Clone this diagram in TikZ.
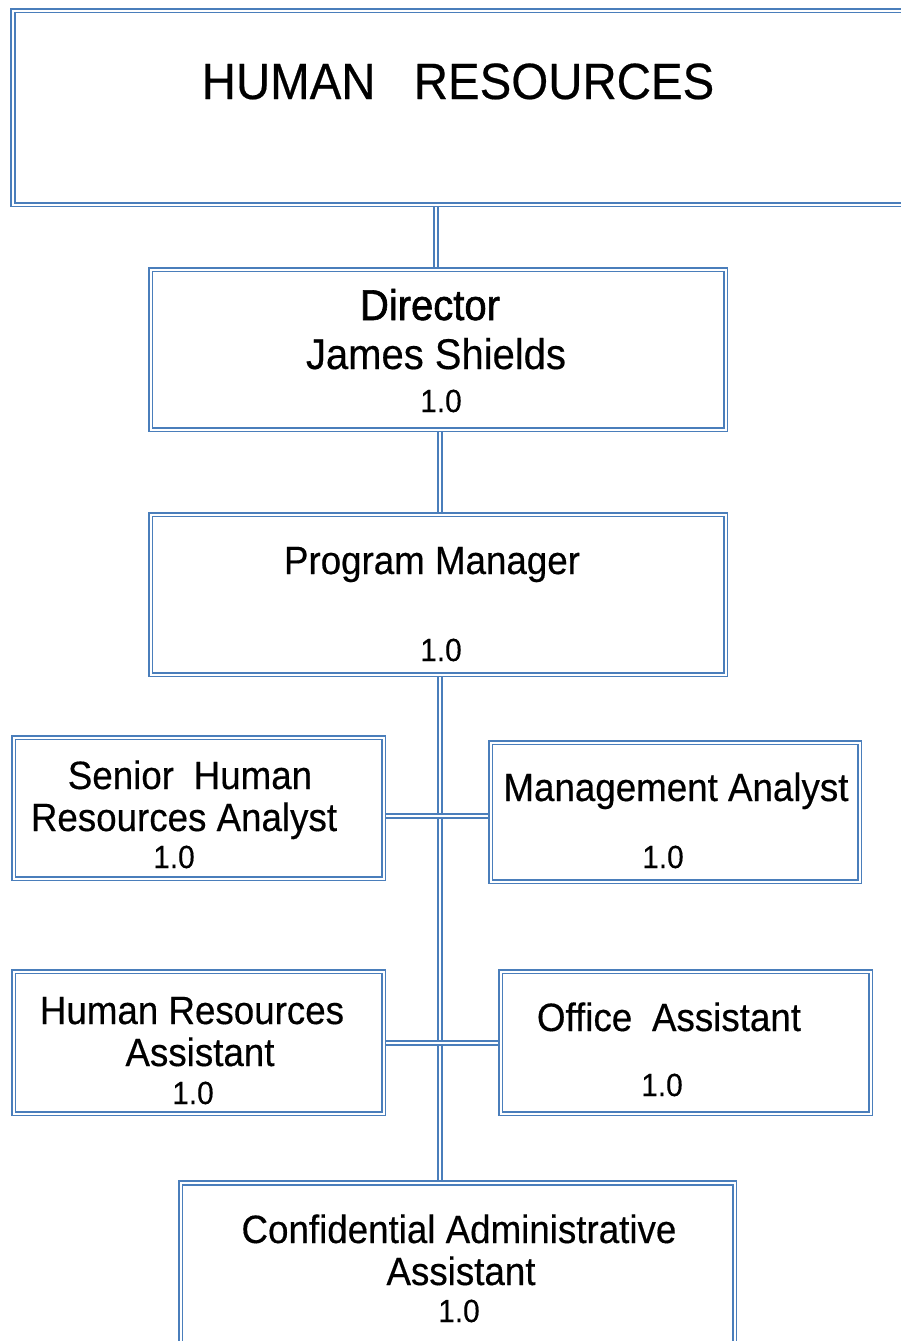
\documentclass[tikz,border=0pt]{standalone}
\usepackage{fontspec}
\setmainfont{Liberation Sans}[FakeStretch=0.93, FakeBold=0.4]
\newfontfamily\dirfont{Liberation Sans}[FakeStretch=0.93, FakeBold=1.4]
\definecolor{hrblue}{HTML}{4A7EBB}
\tikzset{
  dbl/.style={draw=hrblue, line width=1.8pt, double=white, double distance=2pt},
  box/.style={rectangle, inner sep=0pt, outer sep=0pt},
  conn/.style={dbl, line cap=butt},
  big/.style={font=\fontsize{51}{53}\selectfont, anchor=base, inner sep=0pt},
  mid/.style={font=\fontsize{43}{45}\selectfont, anchor=base, inner sep=0pt},
  lbl/.style={font=\fontsize{39.5}{41}\selectfont, anchor=base, inner sep=0pt},
  num/.style={font=\fontsize{32}{34}\selectfont, anchor=base, inner sep=0pt},
}
\begin{document}
\begin{tikzpicture}[x=1pt,y=-1pt]
\useasboundingbox (0,0) rectangle (901,1341);
\clip (0,0) rectangle (901,1341);
% boxes (positions only, drawn after connectors)
\path
  node[box, minimum width=907pt, minimum height=194pt] (hr) at (466.5,107.5) {}
  node[box, minimum width=575pt, minimum height=160pt] (dir) at (438,349.5) {}
  node[box, minimum width=575pt, minimum height=160pt] (pm) at (438,594.5) {}
  node[box, minimum width=370pt, minimum height=141pt] (sra) at (198.5,808) {}
  node[box, minimum width=369pt, minimum height=139pt] (ma) at (675,812) {}
  node[box, minimum width=370pt, minimum height=142pt] (hra) at (198.5,1042.5) {}
  node[box, minimum width=370pt, minimum height=142pt] (oa) at (685.5,1042.5) {}
  node[box, minimum width=554pt, minimum height=217pt] (ca) at (457.5,1291.5) {};
% connectors
\draw[conn] (dir.north -| 436,0) -- (hr.south -| 436,0);
\draw[conn] (pm.north -| 440,0) -- (dir.south -| 440,0);
\draw[conn] (pm.south -| 440,0) -- (ca.north -| 440,0);
\coordinate (j1) at (440,816);
\coordinate (j2) at (440,1043);
\draw[conn] (j1 -| sra.east) -- (j1 -| ma.west);
\draw[conn] (j2 -| hra.east) -- (j2 -| oa.west);
% box borders
\foreach \n in {hr,dir,pm,sra,ma,hra,oa,ca}
  \draw[dbl] (\n.north west) rectangle (\n.south east);
% texts
\node[big] (t-hr) at (458,99) {HUMAN\hspace{0.75em}RESOURCES};
\node[mid, font=\fontsize{43}{45}\dirfont] (t-dir1) at (430,320) {Director};
\node[mid] (t-dir2) at (436,369) {James Shields};
\node[num] (t-dir3) at (441,412) {1.0};
\node[lbl] (t-pm1) at (432,574) {Program Manager};
\node[num] (t-pm2) at (441,661) {1.0};
\node[lbl] (t-sra1) at (190,789) {Senior\hspace{0.5em}Human};
\node[lbl] (t-sra2) at (184,831) {Resources Analyst};
\node[num] (t-sra3) at (174,868) {1.0};
\node[lbl] (t-ma1) at (676,801) {Management Analyst};
\node[num] (t-ma2) at (663,868) {1.0};
\node[lbl] (t-hra1) at (192,1024) {Human Resources};
\node[lbl] (t-hra2) at (200,1066) {Assistant};
\node[num] (t-hra3) at (193,1104) {1.0};
\node[lbl] (t-oa1) at (669,1031) {Office\hspace{0.5em}Assistant};
\node[num] (t-oa2) at (662,1096) {1.0};
\node[lbl] (t-ca1) at (459,1243) {Confidential Administrative};
\node[lbl] (t-ca2) at (461,1285) {Assistant};
\node[num] (t-ca3) at (459,1322) {1.0};
\end{tikzpicture}
\end{document}
